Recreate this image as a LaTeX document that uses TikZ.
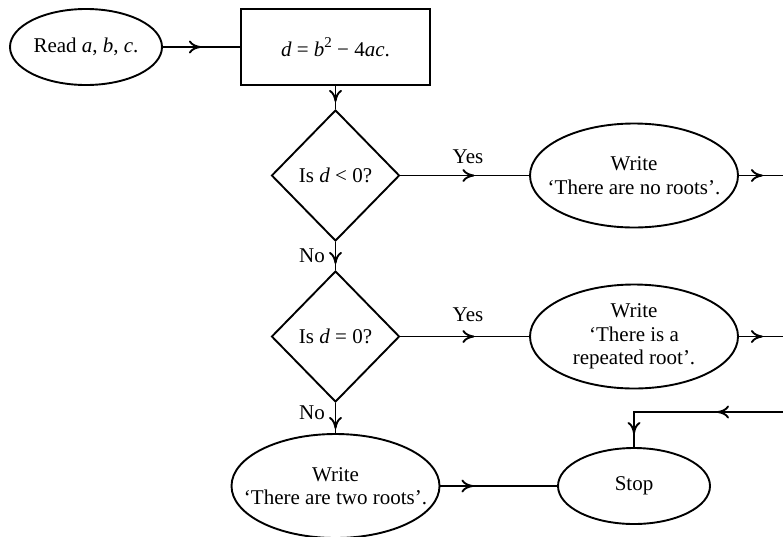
\documentclass[tikz,border=0pt]{standalone}
\usepackage{fontspec}
\setmainfont{Liberation Serif}
\usetikzlibrary{shapes.geometric,arrows.meta,decorations.markings}

\newcommand{\sqr}{\raisebox{0.42em}{\fontsize{15}{15}\selectfont 2}}

\begin{document}
\begin{tikzpicture}[
  x=1pt,y=-1pt,
  line width=1.9pt,
  font=\fontsize{21}{23.5}\selectfont,
  flowtip/.tip={To[length=12pt,width=13pt]},
  oval/.style={draw, ellipse, inner sep=0pt, minimum width=152pt, minimum height=76pt},
  message/.style={oval, align=center, inner xsep=-20pt, minimum width=208pt, minimum height=104pt},
  sum/.style={draw, rectangle, inner sep=0pt, minimum width=189pt, minimum height=76pt},
  test/.style={draw, diamond, inner sep=0pt, minimum width=128pt, minimum height=131pt},
  branch/.style={inner sep=1pt},
  flow/.style={decoration={markings, mark=at position #1 with {\arrow{flowtip}}}, postaction={decorate}}
]
\useasboundingbox (0,0) rectangle (783,536);

\node[oval]    (read) at (86,47)      {Read \textit{a}, \textit{b}, \textit{c}.};
\node[sum]     (disc) at (335.5,47)   {\textit{d} = \textit{b}\sqr\ − 4\textit{ac}.};
\node[test]    (neg)  at (335.5,175.5) {Is \textit{d} < 0?};
\node[message] (none) at (634,175.5)  {Write\\‘There are no roots’.};
\node[test]    (zero) at (335.5,336.5) {Is \textit{d} = 0?};
\node[message] (rep)  at (634,336.5)  {Write\\‘There is a\\repeated root’.};
\node[message] (two)  at (335.5,486)  {Write\\‘There are two roots’.};
\node[oval]    (stop) at (634,486)    {Stop};

\node[branch] (yesneg)  at (468,157) {Yes};
\node[branch] (yeszero) at (468,315) {Yes};
\node[branch] (noneg)   at (312,256) {No};
\node[branch] (nozero)  at (312,413) {No};

% loose ends at the right margin
\coordinate (noneout) at (783,175.5);
\coordinate (repout)  at (783,336.5);
\coordinate (back)    at (783,412);

\draw[flow=38pt] (read) -- (disc);
\draw[flow=16pt] (disc) -- (neg);
\draw[flow=74pt] (neg) -- (none);
\draw[flow=24pt] (none) -- (noneout);
\draw[flow=22pt] (neg) -- (zero);
\draw[flow=74pt] (zero) -- (rep);
\draw[flow=24pt] (rep) -- (repout);
\draw[flow=26pt] (zero) -- (two);
\draw[flow=33pt] (two) -- (stop);
\draw[decoration={markings,
    mark=at position 66pt with {\arrow{flowtip}},
    mark=at position 171pt with {\arrow{flowtip}}},
  postaction={decorate}] (back) -| (stop);
\end{tikzpicture}
\end{document}
